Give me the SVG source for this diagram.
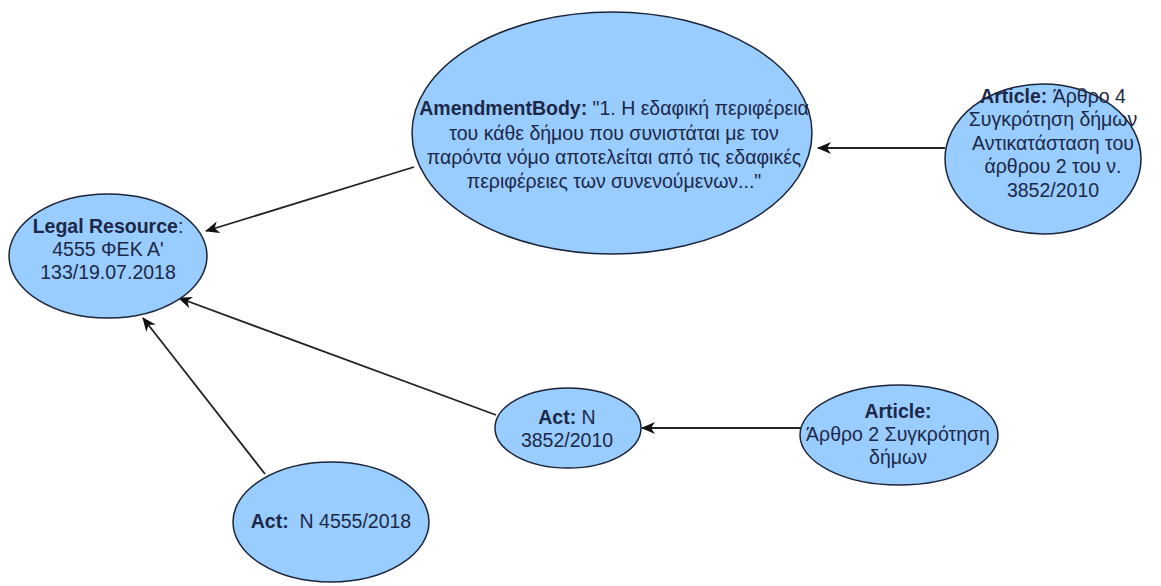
<svg xmlns="http://www.w3.org/2000/svg" width="1161" height="586" viewBox="0 0 1161 586">
<defs>
<style>
.node ellipse{fill:#99CCFF;stroke:#1b2438;stroke-width:1.5}
.node text{font-family:"Liberation Sans",Arial,sans-serif;font-size:19.5px;fill:#1c2848;text-anchor:middle}
.b{font-weight:bold}
.edge{stroke:#222;stroke-width:1.8;fill:none;marker-end:url(#arr)}
</style>
<marker id="arr" viewBox="0 0 14 12" refX="13" refY="6" markerWidth="14" markerHeight="12" markerUnits="userSpaceOnUse" orient="auto">
<path d="M0,0 L14,6 L0,12 L4,6 z" fill="#111"/>
</marker>
</defs>
<rect width="1161" height="586" fill="#fff"/>
<g id="connectors">
<line class="edge" x1="414" y1="167" x2="206" y2="231"/>
<line class="edge" x1="945" y1="148" x2="818" y2="148"/>
<line class="edge" x1="496" y1="415" x2="179" y2="298"/>
<line class="edge" x1="265" y1="474" x2="143" y2="318"/>
<line class="edge" x1="801" y1="428" x2="642" y2="428"/>
</g>
<g id="legal-resource" class="node">
<ellipse cx="108" cy="256" rx="99" ry="62"/>
<text x="108" y="233"><tspan class="b">Legal Resource</tspan>:</text>
<text x="108" y="256">4555 ΦΕΚ Α'</text>
<text x="108" y="279">133/19.07.2018</text>
</g>
<g id="amendment-body" class="node">
<ellipse cx="612" cy="133" rx="200" ry="121"/>
<text x="614" y="115"><tspan class="b">AmendmentBody:</tspan> "1. Η εδαφική περιφέρεια</text>
<text x="614" y="140">του κάθε δήμου που συνιστάται με τον</text>
<text x="614" y="164">παρόντα νόμο αποτελείται από τις εδαφικές</text>
<text x="614" y="188">περιφέρειες των συνενούμενων..."</text>
</g>
<g id="article-4" class="node">
<ellipse cx="1043" cy="159" rx="98" ry="75"/>
<text x="1053" y="103"><tspan class="b">Article:</tspan> Άρθρο 4</text>
<text x="1053" y="126">Συγκρότηση δήμων</text>
<text x="1053" y="150">Αντικατάσταση του</text>
<text x="1053" y="173">άρθρου 2 του ν.</text>
<text x="1053" y="197">3852/2010</text>
</g>
<g id="act-3852" class="node">
<ellipse cx="568" cy="428" rx="73" ry="40"/>
<text x="567" y="424"><tspan class="b">Act:</tspan> N</text>
<text x="567" y="447">3852/2010</text>
</g>
<g id="article-2" class="node">
<ellipse cx="899" cy="435" rx="99" ry="50"/>
<text x="898" y="418" class="b">Article:</text>
<text x="898" y="441">Άρθρο 2 Συγκρότηση</text>
<text x="898" y="464">δήμων</text>
</g>
<g id="act-4555" class="node">
<ellipse cx="331" cy="522" rx="98" ry="60"/>
<text x="331" y="528"><tspan class="b">Act:</tspan> &#160;N 4555/2018</text>
</g>
</svg>
